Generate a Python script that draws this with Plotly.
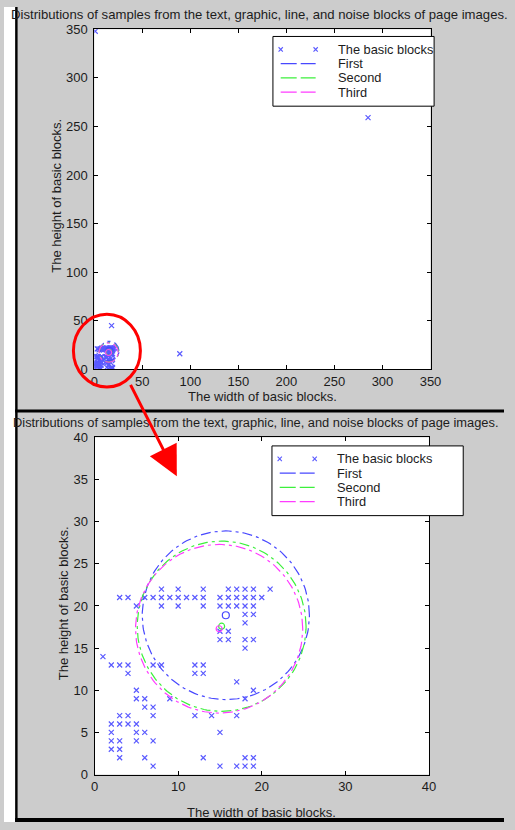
import numpy as np
import plotly.graph_objects as go

W, H = 515, 830
FONT = "Liberation Sans, Arial, sans-serif"
TXT = "#1c1c1c"

# basic block sizes (width, height) in pixels
block_w = [8, 10, 13, 16, 17, 18, 19, 21,
           3, 4, 6, 7, 8, 9, 10, 11, 12, 13, 15, 16, 17, 18, 19, 20,
           5, 8, 10, 13, 15, 16, 17, 18, 19,
           18, 19, 18, 15, 16, 15, 16, 18, 19, 18, 1,
           2, 3, 4, 7, 8, 12, 13, 4, 12, 13, 17, 5, 19,
           5, 6, 9, 18, 6, 7, 3, 4, 7, 12, 14, 17,
           2, 3, 4, 5, 2, 5, 6, 15, 2, 3, 5, 7, 2, 3,
           3, 6, 13, 18, 19, 7, 15, 17, 18, 19,
           18, 89, 285, 1]
block_h = [22, 22, 22, 22, 22, 22, 22, 22,
           21, 21, 21, 21, 21, 21, 21, 21, 21, 21, 21, 21, 21, 21, 21, 21,
           20, 20, 20, 20, 20, 20, 20, 20, 20,
           19, 19, 18, 17, 17, 16, 16, 16, 16, 15, 14,
           13, 13, 13, 13, 13, 13, 13, 12, 12, 12, 11, 10, 10,
           9, 9, 9, 9, 8, 8, 7, 7, 7, 7, 7, 7,
           6, 6, 6, 6, 5, 5, 5, 5, 4, 4, 4, 4, 3, 3,
           2, 2, 2, 2, 2, 1, 1, 1, 1, 1,
           45, 16, 259, 348]

# fitted class circles
circle_names = ["First", "Second", "Third"]
circle_cx = [15.7, 15.2, 14.9]
circle_cy = [18.9, 17.6, 17.3]
circle_r = [10.0, 10.1, 10.0]
circle_colors = ["#4848ff", "#3cf03c", "#ff3cff"]
circle_center_size = [7, 6, 6]
block_color = "#5a5aff"

full_ticks = [0, 50, 100, 150, 200, 250, 300, 350]
zoom_xticks = [0, 10, 20, 30, 40]
zoom_yticks = [0, 5, 10, 15, 20, 25, 30, 35, 40]

title_text = "Distributions of samples from the text, graphic, line, and noise blocks of page images."
x_title = "The width of basic blocks."
y_title = "The height of basic blocks."
legend_labels = ["The basic blocks"] + circle_names


def px(x):
    return x / W


def py(y):
    return 1 - y / H


panels = [
    dict(xa="x", ya="y", box=(93, 22.7, 439.3, 369), xr=[0, 350], yr=[0, 350],
         xt=full_ticks, yt=full_ticks, title=(263.4, 7.5, 13.15),
         xlab=(266, 397), ylab=(53.3, 192.5), leg=(277, 30, 443)),
    dict(xa="x2", ya="y2", box=(93.3, 438.3, 437.7, 781.7), xr=[0, 40], yr=[0, 40],
         xt=zoom_xticks, yt=zoom_yticks, title=(259.2, 423.3, 12.85),
         xlab=(265, 820), ylab=(61, 607), leg=(276, 447, 473)),
]

fig = go.Figure()
shapes = []
annotations = []
theta = np.linspace(0, 2 * np.pi, 181)

for i, p in enumerate(panels):
    fig.add_trace(go.Scatter(
        x=block_w, y=block_h, mode="markers", xaxis=p["xa"], yaxis=p["ya"],
        marker=dict(symbol="x-thin-open", size=5, color=block_color,
                    line=dict(color=block_color, width=1.2)),
        showlegend=False, hoverinfo="skip"))
    for k in range(3):
        fig.add_trace(go.Scatter(
            x=circle_cx[k] + circle_r[k] * np.cos(theta),
            y=circle_cy[k] + circle_r[k] * np.sin(theta),
            mode="lines", xaxis=p["xa"], yaxis=p["ya"],
            line=dict(color=circle_colors[k], width=1.2, dash="10px,4px,3px,4px"),
            showlegend=False, hoverinfo="skip"))
        fig.add_trace(go.Scatter(
            x=[circle_cx[k]], y=[circle_cy[k]], mode="markers", xaxis=p["xa"], yaxis=p["ya"],
            marker=dict(symbol="circle-open", size=circle_center_size[k], color=circle_colors[k],
                        line=dict(color=circle_colors[k], width=1.2)),
            showlegend=False, hoverinfo="skip"))

    x0, y0, x1, y1 = p["box"]
    ax_common = dict(showline=True, linecolor="black", linewidth=1, mirror="ticks",
                     ticks="inside", ticklen=4, tickcolor="black", tickwidth=1,
                     showgrid=False, zeroline=False,
                     tickfont=dict(family=FONT, size=13, color=TXT))
    sfx = "" if i == 0 else "2"
    fig.update_layout(**{
        "xaxis" + sfx: dict(ax_common, domain=[px(x0), px(x1)], range=p["xr"],
                            tickvals=p["xt"], anchor="y" + sfx, ticklabelstandoff=0),
        "yaxis" + sfx: dict(ax_common, domain=[py(y1), py(y0)], range=p["yr"],
                            tickvals=p["yt"], anchor="x" + sfx, ticklabelstandoff=3),
    })

    tx, ty, ts = p["title"]
    annotations.append(dict(text=title_text, x=px(tx), y=py(ty), xref="paper", yref="paper",
                            showarrow=False, xanchor="center", yanchor="middle",
                            font=dict(family=FONT, size=ts, color=TXT)))
    annotations.append(dict(text=x_title, x=px(p["xlab"][0]), y=py(p["xlab"][1]),
                            xref="paper", yref="paper", showarrow=False,
                            xanchor="center", yanchor="middle",
                            font=dict(family=FONT, size=13, color=TXT)))
    annotations.append(dict(text=y_title, x=px(p["ylab"][0]), y=py(p["ylab"][1]),
                            xref="paper", yref="paper", showarrow=False, textangle=-90,
                            xanchor="center", yanchor="middle",
                            font=dict(family=FONT, size=13, color=TXT)))

    # legend box
    lx, ly, lr = p["leg"]
    shapes.append(dict(type="rect", xref="paper", yref="paper",
                       x0=px(lx), x1=px(lr), y0=py(ly + 71), y1=py(ly),
                       fillcolor="white", line=dict(color="black", width=1), layer="above"))
    row_off = [13.2, 27.7, 42.2, 56.7]
    for r, label in enumerate(legend_labels):
        ry = ly + row_off[r]
        sx0, sx1 = lx + 8, lx + 44
        if r == 0:
            for sx in (sx0, sx1):
                d = 2.2
                path = (f"M {px(sx - d)} {py(ry - d)} L {px(sx + d)} {py(ry + d)} "
                        f"M {px(sx - d)} {py(ry + d)} L {px(sx + d)} {py(ry - d)}")
                shapes.append(dict(type="path", xref="paper", yref="paper", path=path,
                                   line=dict(color=block_color, width=1.1), layer="above"))
        else:
            shapes.append(dict(type="line", xref="paper", yref="paper",
                               x0=px(sx0), x1=px(sx1), y0=py(ry), y1=py(ry),
                               line=dict(color=circle_colors[r - 1], width=1.3, dash="16px,4px"),
                               layer="above"))
        annotations.append(dict(text=label, x=px(lx + 65), y=py(ry), xref="paper", yref="paper",
                                showarrow=False, xanchor="left", yanchor="middle",
                                font=dict(family=FONT, size=12.8, color=TXT)))

# window frame: white margin and black rules
shapes += [
    dict(type="rect", xref="paper", yref="paper", x0=0, x1=px(11.5), y0=0, y1=1,
         fillcolor="white", line=dict(width=0), layer="above"),
    dict(type="rect", xref="paper", yref="paper", x0=px(11.5), x1=px(14), y0=0, y1=1,
         fillcolor="black", line=dict(width=0), layer="above"),
    dict(type="rect", xref="paper", yref="paper", x0=px(11.5), x1=1, y0=py(413), y1=py(410),
         fillcolor="black", line=dict(width=0), layer="above"),
    dict(type="rect", xref="paper", yref="paper", x0=px(11.5), x1=1, y0=0, y1=py(826),
         fillcolor="black", line=dict(width=0), layer="above"),
    # red highlight ring around the dense cluster
    dict(type="circle", xref="paper", yref="paper", x0=px(71.5), x1=px(140.5),
         y0=py(387), y1=py(313), line=dict(color="#ff0000", width=3), layer="above"),
]

# red pointer from the highlighted cluster to the zoomed panel
annotations.append(dict(x=px(178), y=py(478), xref="paper", yref="paper", text="",
                        showarrow=True, ax=-47, ay=-93, arrowcolor="#ff0000",
                        arrowwidth=3, arrowhead=2, arrowsize=2.0))

fig.update_layout(width=W, height=H, margin=dict(l=0, r=0, t=0, b=0),
                  paper_bgcolor="#cccccc", plot_bgcolor="white",
                  showlegend=False, shapes=shapes, annotations=annotations)

fig.write_html("out.html")
